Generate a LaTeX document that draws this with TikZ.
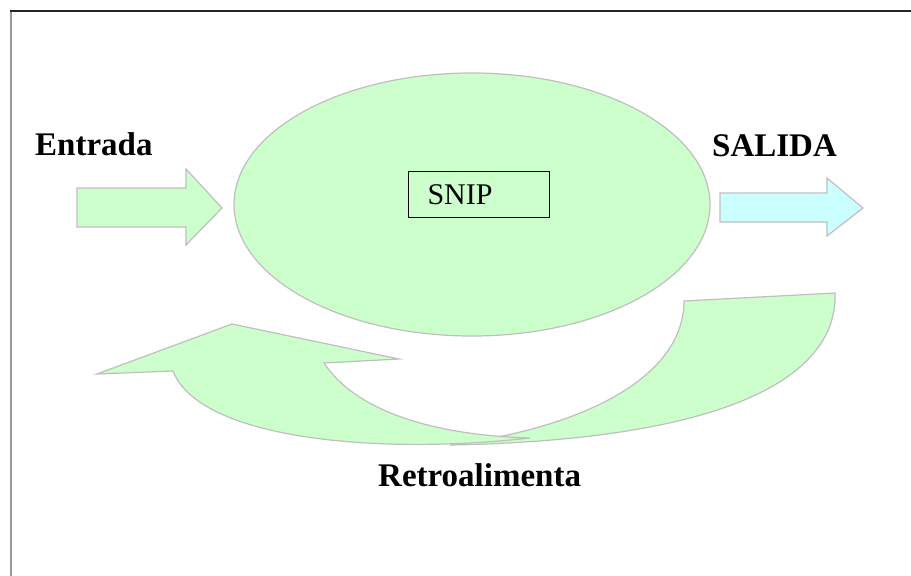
\documentclass[tikz,border=0pt]{standalone}
\usepackage{fontspec, tikz}
\usetikzlibrary{shapes.geometric}
\setmainfont{Liberation Serif}
\definecolor{verde}{HTML}{CCFFCC}
\definecolor{celeste}{HTML}{CCFFFF}
\definecolor{borde}{HTML}{BFBFBF}
\tikzset{
  forma/.style={draw=borde, line width=1.2pt, line join=miter},
  etiqueta/.style={font=\fontsize{33}{40}\selectfont\bfseries, inner sep=0pt}
}

\begin{document}
\begin{tikzpicture}[x=1pt, y=-1pt]
        \useasboundingbox (0,0) rectangle (911,576);
        % marco
        \draw[line width=2pt, gray!80] (11,576) -- (11,11);
        \draw[line width=1.3pt, black!85] (10,11) -- (911,11);
        % sistema
        \node[forma, fill=verde, ellipse, minimum width=476pt, minimum height=263pt, inner sep=0pt] (sistema) at (472,204.5) {};
        \node[draw, line width=1pt, anchor=north west, minimum height=46pt, inner xsep=19pt, text width=103pt, align=left, font=\fontsize{30}{36}\selectfont] (snip) at (408,171) {SNIP};
        % entrada y salida
        \draw[forma, fill=verde] (77,188) -- (186,188) -- (186,169) -- (222,208) -- (186,245) -- (186,227) -- (77,227) -- cycle;
        \draw[forma, fill=celeste] (720,193) -- (827,193) -- (827,178) -- (863,208) -- (827,236) -- (827,222) -- (720,222) -- cycle;
        \node[etiqueta, anchor=base west] (entrada) at (35,155) {Entrada};
        \node[etiqueta, anchor=base west] (salida) at (712,156) {SALIDA};
        % retroalimentacion
        \draw[forma, fill=verde] (684,301) -- (835,293) .. controls (838,380) and (720,440) .. (450,445)
              .. controls (600,425) and (684,370) .. (684,301) -- cycle;
        \draw[forma, fill=verde] (173,371) -- (97,374) -- (232,324) -- (399,359) -- (324,363)
              .. controls (355,410) and (430,435) .. (530,438)
              .. controls (380,455) and (200,440) .. (173,371) -- cycle;
        \node[etiqueta, anchor=base west] (retro) at (378,486) {Retroalimenta};
    \end{tikzpicture}
\end{document}
